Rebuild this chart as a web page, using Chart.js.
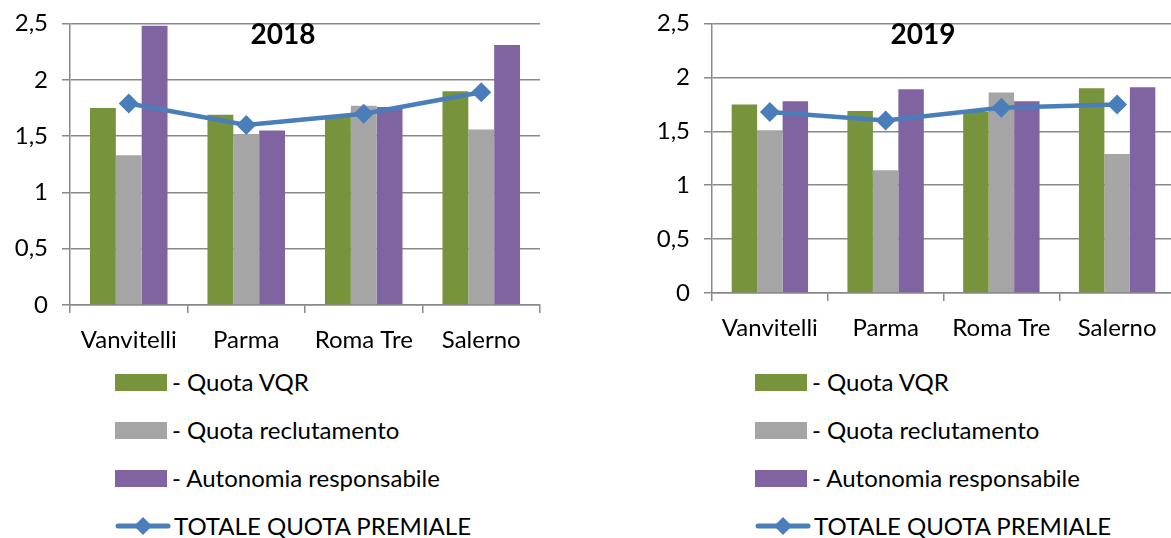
<!DOCTYPE html>
<html>
<head>
<meta charset="utf-8">
<script src="https://cdn.jsdelivr.net/npm/chart.js@4.4.1/dist/chart.umd.min.js"></script>
<style>
  html, body { margin: 0; padding: 0; background: #fff; overflow: hidden; width: 1171px; height: 538px; }
  .chart-box { position: absolute; top: 0; height: 360px; }
  #box2018 { left: 0; width: 560px; }
  #box2019 { left: 640px; width: 545px; }
  .legend { position: absolute; top: 360px; font-family: Lato, sans-serif; font-size: 24px; line-height: 26px; color: #000; }
  .legend-row { position: absolute; left: 0; height: 26px; white-space: nowrap; display: flex; align-items: center; }
  .legend-row .swatch { display: inline-block; width: 52px; height: 17px; margin-right: 5px; }
  .legend-row svg { margin-right: 3px; }
</style>
</head>
<body>
<div class="chart-box" id="box2018"><canvas id="chart2018"></canvas></div>
<div class="chart-box" id="box2019"><canvas id="chart2019"></canvas></div>
<div class="legend" id="legend2018" style="left:115px"></div>
<div class="legend" id="legend2019" style="left:755px"></div>
<script>
// Data
const categories = ['Vanvitelli', 'Parma', 'Roma Tre', 'Salerno'];
const seriesNames = ['- Quota VQR', '- Quota reclutamento', '- Autonomia responsabile', 'TOTALE QUOTA PREMIALE'];

const vqr2018 = [1.75, 1.69, 1.68, 1.90];
const recl2018 = [1.33, 1.52, 1.77, 1.56];
const auton2018 = [2.48, 1.55, 1.76, 2.31];
const totale2018 = [1.79, 1.60, 1.70, 1.89];

const vqr2019 = [1.75, 1.69, 1.68, 1.90];
const recl2019 = [1.51, 1.14, 1.86, 1.29];
const auton2019 = [1.78, 1.89, 1.78, 1.91];
const totale2019 = [1.68, 1.60, 1.72, 1.75];

const yTicks = [0, 0.5, 1, 1.5, 2, 2.5];

const colors = ['#77933C', '#A5A5A5', '#8064A2', '#4A7EBB'];
const gridColor = '#898989';
const fontFamily = 'Lato, sans-serif';

// title drawn inside the plot area, like the Excel chart
const innerTitle = {
    id: 'innerTitle',
    afterDraw(chart, args, opts) {
        const ctx = chart.ctx;
        ctx.save();
        ctx.font = 'bold 28px ' + fontFamily;
        ctx.fillStyle = '#000';
        ctx.textAlign = 'center';
        ctx.textBaseline = 'middle';
        ctx.fillText(opts.text, opts.x, chart.chartArea.top + 11);
        ctx.restore();
    }
};

function makeChart(id, year, vqr, recl, auton, totale, yWidth, xHeight, pad) {
    const bar = (label, data, color) => ({
        type: 'bar', label, data, backgroundColor: color, order: 2,
        categoryPercentage: 0.66, barPercentage: 1.0
    });
    return new Chart(document.getElementById(id), {
        data: {
            labels: categories,
            datasets: [
                { type: 'line', label: seriesNames[3], data: totale, borderColor: colors[3],
                  backgroundColor: colors[3], borderWidth: 4.5, pointStyle: 'rectRot', pointRadius: 10,
                  pointHoverRadius: 10, pointBackgroundColor: colors[3], pointBorderWidth: 0, order: 1 },
                bar(seriesNames[0], vqr, colors[0]),
                bar(seriesNames[1], recl, colors[1]),
                bar(seriesNames[2], auton, colors[2])
            ]
        },
        options: {
            responsive: true, maintainAspectRatio: false, animation: false,
            layout: { padding: pad },
            plugins: {
                legend: { display: false },
                tooltip: { enabled: false },
                innerTitle: { text: year, x: 283 }
            },
            scales: {
                x: {
                    grid: { display: true, drawOnChartArea: false, offset: true, tickLength: 8, color: gridColor, lineWidth: 1.5 },
                    border: { color: gridColor, width: 1.5 },
                    ticks: { color: '#000', font: { family: fontFamily, size: 24 }, padding: 13, maxRotation: 0 },
                    afterFit: s => { s.height = xHeight; }
                },
                y: {
                    min: 0, max: 2.5,
                    afterBuildTicks: s => { s.ticks = yTicks.map(v => ({ value: v })); },
                    grid: { color: gridColor, lineWidth: 1.5, tickLength: 8 },
                    border: { color: gridColor, width: 1.5 },
                    ticks: { color: '#000', font: { family: fontFamily, size: 24, lineHeight: 0.8 }, padding: 14,
                             callback: v => String(v).replace('.', ',') },
                    afterFit: s => { s.width = yWidth; }
                }
            }
        },
        plugins: [innerTitle]
    });
}

makeChart('chart2018', '2018', vqr2018, recl2018, auton2018, totale2018, 70, 55, { top: 22, right: 20, bottom: 0, left: 0 });
makeChart('chart2019', '2019', vqr2019, recl2019, auton2019, totale2019, 72, 67, { top: 22, right: 7, bottom: 0, left: 0 });

// HTML legend, one item per row
function buildLegend(id) {
    const el = document.getElementById(id);
    const rowTops = [9, 57, 105, 153];
    seriesNames.forEach((name, i) => {
        const row = document.createElement('div');
        row.className = 'legend-row';
        row.style.top = rowTops[i] + 'px';
        if (i < 3) {
            const sw = document.createElement('span');
            sw.className = 'swatch';
            sw.style.background = colors[i];
            row.appendChild(sw);
        } else {
            row.innerHTML = '<svg width="56" height="22" viewBox="0 0 56 22">' +
                '<line x1="3" y1="11" x2="53" y2="11" stroke="' + colors[3] + '" stroke-width="5" stroke-linecap="round"/>' +
                '<polygon points="28,2 37,11 28,20 19,11" fill="' + colors[3] + '"/></svg>';
        }
        const txt = document.createElement('span');
        txt.textContent = name;
        row.appendChild(txt);
        el.appendChild(row);
    });
}
buildLegend('legend2018');
buildLegend('legend2019');
</script>
</body>
</html>
